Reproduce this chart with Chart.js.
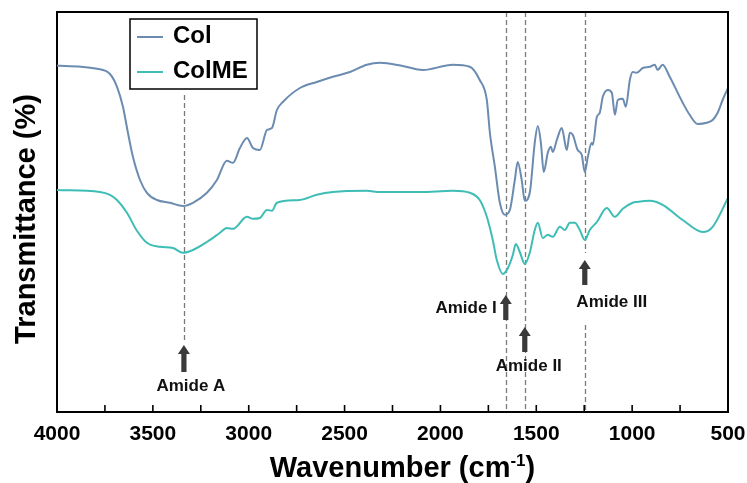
<!DOCTYPE html>
<html><head><meta charset="utf-8">
<script src="https://cdn.jsdelivr.net/npm/chart.js@4.4.1/dist/chart.umd.min.js"></script>
<style>html,body{margin:0;padding:0;background:#fff}</style>
</head><body>
<canvas id="c" width="747" height="483"></canvas>
<script>
// ---------- DATA ----------
const seriesNames = ['Col', 'ColME'];

const colWavenumber = [4000,3791,3724,3687,3656,3630,3604,3567,3531,3479,3411,3343,3291,3218,3166,3114,3082,3046,3009,2978,2942,2905,2879,2853,2822,2733,2645,2561,2472,2384,2316,2196,2092,1935,1847,1795,1758,1742,1716,1690,1664,1638,1612,1597,1576,1560,1534,1508,1492,1476,1461,1440,1424,1414,1393,1367,1341,1325,1310,1284,1263,1247,1231,1211,1205,1184,1169,1153,1127,1106,1090,1075,1049,1033,1012,997,976,945,908,882,867,841,804,736,700,658,611,580,554,528,500];
const colTransmittance = [86.6,85.8,84.5,81.3,76.3,69.8,63.8,58.0,54.8,53.0,52.3,51.5,52.3,54.8,58.0,62.8,62.3,66.0,68.5,66.0,65.5,70.5,71.0,75.5,77.5,81.0,82.5,83.8,85.0,86.8,87.3,86.5,85.5,86.8,86.3,83.0,78.0,69.8,61.3,52.3,49.3,50.5,58.0,62.5,58.0,52.8,54.8,67.3,71.5,67.3,60.0,64.8,66.3,65.0,68.0,71.0,65.5,69.8,69.3,65.5,64.3,60.0,63.8,67.3,66.8,73.8,74.8,78.8,80.5,79.8,74.3,78.0,78.3,76.3,83.0,85.0,84.8,86.0,86.3,86.8,85.5,86.8,83.8,77.3,74.3,72.0,72.3,73.0,74.8,78.0,81.0];

const colmeWavenumber = [4000,3776,3724,3687,3635,3583,3531,3463,3395,3343,3291,3218,3150,3114,3082,3009,2978,2942,2905,2879,2853,2733,2645,2561,2384,2316,2107,1935,1847,1795,1758,1727,1706,1674,1648,1622,1607,1586,1560,1534,1508,1492,1466,1440,1414,1377,1351,1325,1299,1273,1247,1221,1184,1132,1090,1049,997,976,908,841,736,632,580,500];
const colmeTransmittance = [55.5,55.0,54.3,53.0,49.8,45.3,42.3,41.3,41.0,39.8,40.5,42.5,44.8,46.0,45.8,48.8,48.3,48.5,50.5,50.3,52.3,53.0,54.3,55.0,55.3,55.0,55.0,55.3,54.8,53.0,48.8,43.0,38.0,34.5,36.0,39.3,42.0,40.0,37.0,39.8,45.5,47.3,43.5,44.3,43.8,46.3,45.5,47.3,47.3,45.5,43.0,45.5,47.5,51.0,48.8,50.8,52.3,52.5,52.8,51.8,48.0,45.0,46.3,53.5];

const axisRange = [500, 4000];
const amidePeaks = [3338, 1659, 1560, 1247];
const amideNames = ['Amide A', 'Amide I', 'Amide II', 'Amide III'];

// ---------- LAYOUT / STYLE ----------
const FONT = '"Liberation Sans", Arial, Helvetica, sans-serif';
const colors = ['#6b8cb0', '#3dbdb5'];
// per-annotation geometry in y-units (0..100 plot scale)
const annoLayout = [
  {dash: [[79.25, 17.25]], tip: 16.75, base: 10.0, label: {dx: 7, y: 6.5, align: 'center'}},
  {dash: [[100, 0]], tip: 29.25, base: 23.0, label: {dx: -9, y: 26.0, align: 'right'}},
  {dash: [[100, 0]], tip: 21.25, base: 15.0, label: {dx: 4, y: 11.3, align: 'center'}},
  {dash: [[100, 39.75], [21.75, 0]], tip: 38.0, base: 31.75, label: {dx: 27, y: 27.3, align: 'center'}}
];

function toPoints(xs, ys) { return xs.map((x, i) => ({x: x, y: ys[i]})); }

const decor = {
  id: 'decor',
  beforeDatasetsDraw(chart) {
    const {ctx, scales: {x, y}} = chart;
    ctx.save();
    ctx.strokeStyle = '#7a7a7a';
    ctx.lineWidth = 1.3;
    ctx.setLineDash([5, 3]);
    amidePeaks.forEach((wn, i) => {
      const px = Math.round(x.getPixelForValue(wn)) + 0.5;
      annoLayout[i].dash.forEach(([a, b]) => {
        ctx.beginPath();
        ctx.moveTo(px, y.getPixelForValue(a));
        ctx.lineTo(px, y.getPixelForValue(b));
        ctx.stroke();
      });
    });
    ctx.restore();
  },
  afterDatasetsDraw(chart) {
    const {ctx, chartArea: ca, scales: {x, y}} = chart;
    ctx.save();
    // frame top & right
    ctx.strokeStyle = '#000';
    ctx.lineWidth = 2;
    ctx.beginPath();
    ctx.moveTo(ca.left, ca.top); ctx.lineTo(ca.right, ca.top); ctx.lineTo(ca.right, ca.bottom);
    ctx.stroke();
    // inward ticks
    ctx.lineWidth = 1.6;
    x.ticks.forEach(t => {
      const px = x.getPixelForValue(t.value);
      ctx.beginPath(); ctx.moveTo(px, ca.bottom); ctx.lineTo(px, ca.bottom - 7); ctx.stroke();
    });
    // arrows + labels
    ctx.fillStyle = '#3a3a3a';
    amidePeaks.forEach((wn, i) => {
      const L = annoLayout[i];
      const px = x.getPixelForValue(wn);
      const tip = y.getPixelForValue(L.tip), base = y.getPixelForValue(L.base);
      const hh = 9, hw = 6, sw = 2.6;
      ctx.beginPath();
      ctx.moveTo(px, tip);
      ctx.lineTo(px + hw, tip + hh);
      ctx.lineTo(px + sw, tip + hh);
      ctx.lineTo(px + sw, base);
      ctx.lineTo(px - sw, base);
      ctx.lineTo(px - sw, tip + hh);
      ctx.lineTo(px - hw, tip + hh);
      ctx.closePath();
      ctx.fill();
    });
    ctx.fillStyle = '#111';
    ctx.font = 'bold 17px ' + FONT;
    ctx.textBaseline = 'middle';
    amidePeaks.forEach((wn, i) => {
      const L = annoLayout[i].label;
      ctx.textAlign = L.align;
      ctx.fillText(amideNames[i], x.getPixelForValue(wn) + L.dx, y.getPixelForValue(L.y));
    });
    // legend
    const lg = {x: ca.left + 73, y: ca.top + 7, w: 127, h: 70};
    ctx.fillStyle = '#fff';
    ctx.fillRect(lg.x, lg.y, lg.w, lg.h);
    ctx.strokeStyle = '#000';
    ctx.lineWidth = 1.5;
    ctx.strokeRect(lg.x, lg.y, lg.w, lg.h);
    ctx.font = 'bold 24px ' + FONT;
    ctx.textAlign = 'left';
    ctx.textBaseline = 'middle';
    chart.data.datasets.forEach((ds, i) => {
      const cy = lg.y + 17 + i * 35;
      ctx.strokeStyle = ds.borderColor;
      ctx.lineWidth = 2;
      ctx.beginPath(); ctx.moveTo(lg.x + 7, cy + 1); ctx.lineTo(lg.x + 33, cy + 1); ctx.stroke();
      ctx.fillStyle = '#000';
      ctx.fillText(ds.label, lg.x + 43, cy);
    });
    // axis titles
    ctx.fillStyle = '#000';
    ctx.font = 'bold 29px ' + FONT;
    ctx.textBaseline = 'alphabetic';
    const t1 = 'Wavenumber (cm', sup = '-1', t2 = ')';
    const w1 = ctx.measureText(t1).width, w3 = ctx.measureText(t2).width;
    ctx.font = 'bold 17px ' + FONT;
    const w2 = ctx.measureText(sup).width;
    const total = w1 + w2 + w3;
    let sx = (ca.left + ca.right) / 2 + 10 - total / 2;
    const by = 477;
    ctx.font = 'bold 29px ' + FONT;
    ctx.textAlign = 'left';
    ctx.fillText(t1, sx, by);
    ctx.font = 'bold 17px ' + FONT;
    ctx.fillText(sup, sx + w1, by - 11);
    ctx.font = 'bold 29px ' + FONT;
    ctx.fillText(t2, sx + w1 + w2, by);
    ctx.save();
    ctx.translate(35, (ca.top + ca.bottom) / 2 + 7);
    ctx.rotate(-Math.PI / 2);
    ctx.textAlign = 'center';
    ctx.fillText('Transmittance (%)', 0, 0);
    ctx.restore();
    ctx.restore();
  }
};

new Chart(document.getElementById('c'), {
  type: 'line',
  data: {
    datasets: [
      {label: seriesNames[0], data: toPoints(colWavenumber, colTransmittance), borderColor: colors[0], borderWidth: 2, pointRadius: 0, cubicInterpolationMode: 'monotone', fill: false},
      {label: seriesNames[1], data: toPoints(colmeWavenumber, colmeTransmittance), borderColor: colors[1], borderWidth: 2, pointRadius: 0, cubicInterpolationMode: 'monotone', fill: false}
    ]
  },
  options: {
    responsive: false,
    animation: false,
    devicePixelRatio: 1,
    layout: {padding: {top: 12, right: 19, left: 0, bottom: 0}},
    plugins: {legend: {display: false}, tooltip: {enabled: false}},
    scales: {
      x: {
        type: 'linear', reverse: true, min: axisRange[0], max: axisRange[1],
        grid: {display: false, drawTicks: false},
        border: {display: true, width: 2, color: '#000'},
        ticks: {
          stepSize: 250, autoSkip: false, maxRotation: 0, padding: 10, color: '#000',
          font: {family: FONT, size: 21, weight: 'bold'},
          callback: v => (v % 500 === 0 ? String(v) : '')
        },
        afterFit: s => { s.height = 71; s.paddingLeft = 0; s.paddingRight = 0; }
      },
      y: {
        min: 0, max: 100,
        grid: {display: false, drawTicks: false},
        border: {display: true, width: 2, color: '#000'},
        ticks: {display: false},
        afterFit: s => { s.width = 57; }
      }
    }
  },
  plugins: [decor]
});
</script>
</body></html>
